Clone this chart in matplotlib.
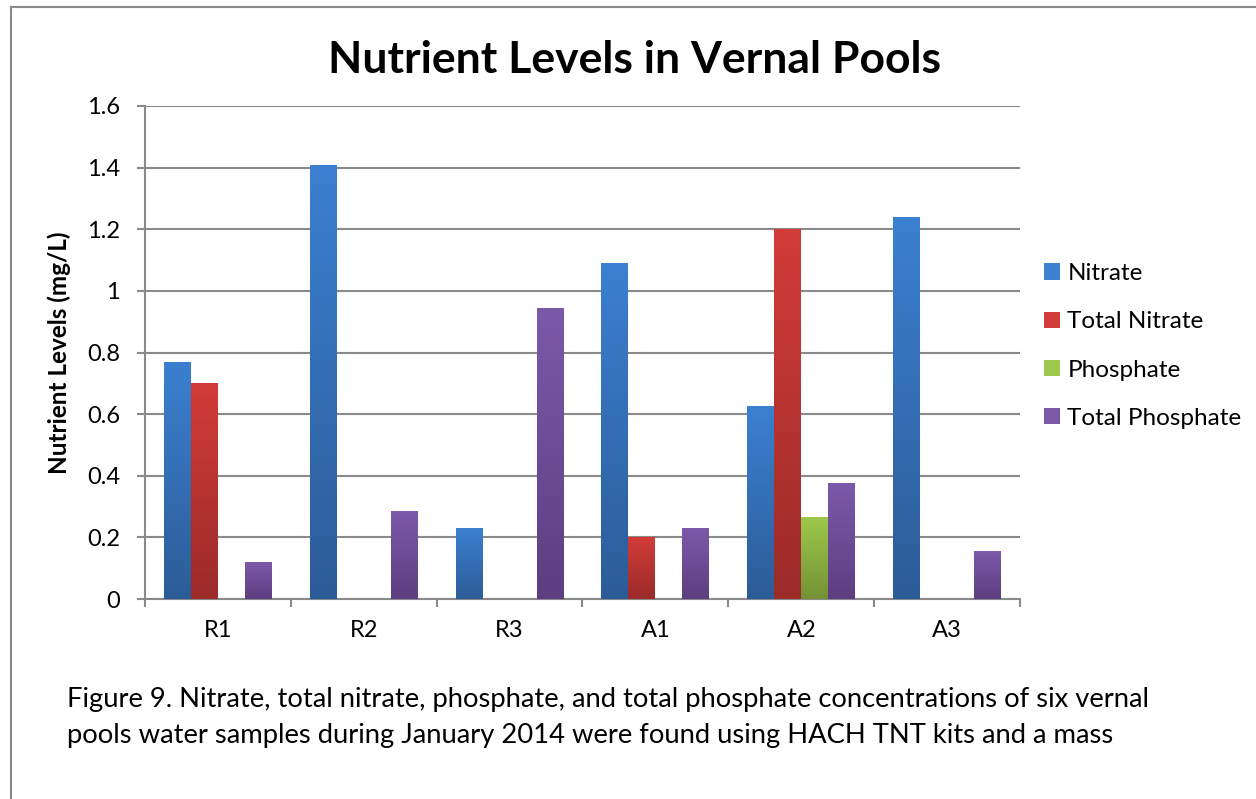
import numpy as np
import matplotlib.pyplot as plt
from matplotlib.lines import Line2D
from matplotlib.patches import Patch
from matplotlib.colors import LinearSegmentedColormap

plt.rcParams["font.family"] = ["Lato", "DejaVu Sans"]

# data
sites = ["R1", "R2", "R3", "A1", "A2", "A3"]
nitrate = [0.77, 1.41, 0.23, 1.09, 0.625, 1.24]
total_nitrate = [0.70, 0.0, 0.0, 0.20, 1.20, 0.0]
phosphate = [0.0, 0.0, 0.0, 0.0, 0.265, 0.0]
total_phosphate = [0.12, 0.285, 0.945, 0.23, 0.375, 0.155]
series_names = ["Nitrate", "Total Nitrate", "Phosphate", "Total Phosphate"]
y_ticks = [0, 0.2, 0.4, 0.6, 0.8, 1, 1.2, 1.4, 1.6]

# (top colour, bottom colour) for each series gradient
grads = [("#3b80d1", "#2c5c97"),
         ("#d23c38", "#9b2b29"),
         ("#9dc84b", "#749235"),
         ("#7d59aa", "#5d3e80")]

fig = plt.figure(figsize=(12.56, 7.99), dpi=100)
ax = fig.add_axes([145 / 1256, 1 - 599 / 799, 875 / 1256, 493 / 799])

series = [nitrate, total_nitrate, phosphate, total_phosphate]
x = np.arange(len(sites))
w = 0.185
grad_img = np.linspace(0, 1, 256).reshape(-1, 1)
for j, vals in enumerate(series):
    cmap = LinearSegmentedColormap.from_list("g%d" % j, [grads[j][1], grads[j][0]])
    bars = ax.bar(x + (j - 1.5) * w, vals, w, color="none", linewidth=0, zorder=3)
    for b in bars:
        if b.get_height() <= 0:
            continue
        x0, y0 = b.get_x(), b.get_y()
        im = ax.imshow(grad_img, cmap=cmap, origin="lower", aspect="auto",
                       extent=[x0, x0 + b.get_width(), y0, y0 + b.get_height()],
                       zorder=3)
        im.set_clip_path(b)

ax.set_xlim(-0.5, len(sites) - 0.5)
ax.set_ylim(0, 1.6)
ax.set_yticks(y_ticks)
ax.set_yticklabels(["0", "0.2", "0.4", "0.6", "0.8", "1", "1.2", "1.4", "1.6"])
ax.set_xticks(x)
ax.set_xticklabels(sites)
ax.set_xticks(np.arange(-0.5, len(sites)), minor=True)

grid_c = "#8a8a8a"
ax.grid(axis="y", color=grid_c, linewidth=1.5, zorder=1)
ax.set_axisbelow(True)
for s in ["top", "right"]:
    ax.spines[s].set_visible(False)
ax.spines["left"].set_color(grid_c)
ax.spines["bottom"].set_color(grid_c)
ax.spines["left"].set_linewidth(1.5)
ax.spines["bottom"].set_linewidth(1.5)
ax.tick_params(axis="y", length=6, width=1.5, color=grid_c, pad=12, labelsize=17)
ax.tick_params(axis="x", which="major", length=0, pad=15, labelsize=17)
ax.tick_params(axis="x", which="minor", length=6, width=1.5, color=grid_c)

ax.set_ylabel("Nutrient Levels (mg/L)", fontsize=17.5, fontweight="bold")
ax.yaxis.set_label_coords(-0.0846, 0.5)
fig.text(635 / 1256, 1 - 60 / 799, "Nutrient Levels in Vernal Pools",
         ha="center", va="center", fontsize=32, fontweight="bold")

handles = [Patch(facecolor=grads[j][0], edgecolor="none") for j in range(4)]
fig.legend(handles, series_names, loc="center left",
           bbox_to_anchor=(1044 / 1256, 1 - 346 / 799), frameon=False,
           fontsize=17.5, handlelength=0.66, handleheight=0.66,
           handletextpad=0.3, labelspacing=1.12, borderpad=0, borderaxespad=0)

fig.text(67 / 1256, 1 - 700 / 799,
         "Figure 9. Nitrate, total nitrate, phosphate, and total phosphate concentrations of six vernal",
         ha="left", va="center", fontsize=19.7)
fig.text(67 / 1256, 1 - 735 / 799,
         "pools water samples during January 2014 were found using HACH TNT kits and a mass",
         ha="left", va="center", fontsize=19.7)

# page frame lines (left and top)
fig.add_artist(Line2D([11 / 1256, 11 / 1256], [0, 1 - 7 / 799],
                      transform=fig.transFigure, color="#8a8a8a", linewidth=1.5))
fig.add_artist(Line2D([11 / 1256, 1], [1 - 7 / 799, 1 - 7 / 799],
                      transform=fig.transFigure, color="#8a8a8a", linewidth=1.5))

fig.savefig("out.png", dpi=100)
